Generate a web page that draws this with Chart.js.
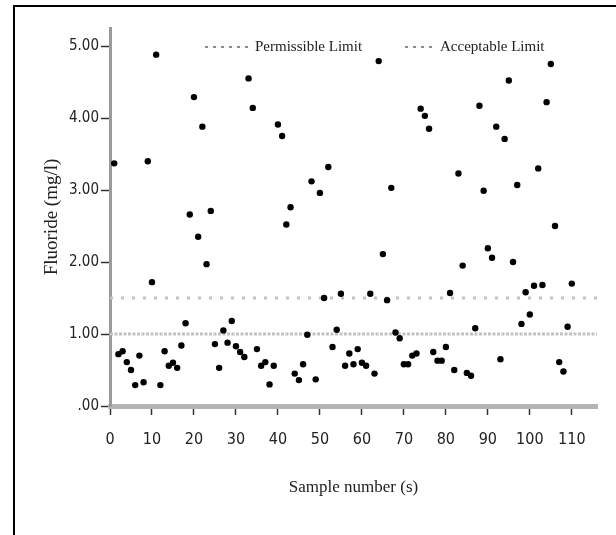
<!DOCTYPE html>
<html>
<head>
<meta charset="utf-8">
<script src="https://cdn.jsdelivr.net/npm/chart.js@4/dist/chart.umd.min.js"></script>
<style>
  html, body { margin: 0; padding: 0; background: #fff; }
</style>
</head>
<body>
<canvas id="fluorideChart" width="616" height="535"></canvas>
<script>
const sampleNumbers = [
    1, 2, 3, 4, 5, 6, 7, 8, 9, 10,
    11, 12, 13, 14, 15, 16, 17, 18, 19, 20,
    21, 22, 23, 24, 25, 26, 27, 28, 29, 30,
    31, 32, 33, 34, 35, 36, 37, 38, 39, 40,
    41, 42, 43, 44, 45, 46, 47, 48, 49, 50,
    51, 52, 53, 54, 55, 56, 57, 58, 59, 60,
    61, 62, 63, 64, 65, 66, 67, 68, 69, 70,
    71, 72, 73, 74, 75, 76, 77, 78, 79, 80,
    81, 82, 83, 84, 85, 86, 87, 88, 89, 90,
    91, 92, 93, 94, 95, 96, 97, 98, 99, 100,
    101, 102, 103, 104, 105, 106, 107, 108, 109, 110
];

// fluoride (mg/l) per sample
const fluoride = [
    3.37, 0.72, 0.76, 0.61, 0.50, 0.29, 0.70, 0.33, 3.40, 1.72,
    4.88, 0.29, 0.76, 0.56, 0.60, 0.53, 0.84, 1.15, 2.66, 4.29,
    2.35, 3.88, 1.97, 2.71, 0.86, 0.53, 1.05, 0.88, 1.18, 0.83,
    0.75, 0.68, 4.55, 4.14, 0.79, 0.56, 0.61, 0.30, 0.56, 3.91,
    3.75, 2.52, 2.76, 0.45, 0.36, 0.58, 0.99, 3.12, 0.37, 2.96,
    1.50, 3.32, 0.82, 1.06, 1.56, 0.56, 0.73, 0.58, 0.79, 0.60,
    0.56, 1.56, 0.45, 4.79, 2.11, 1.47, 3.03, 1.02, 0.94, 0.58,
    0.58, 0.70, 0.73, 4.13, 4.03, 3.85, 0.75, 0.63, 0.63, 0.82,
    1.57, 0.50, 3.23, 1.95, 0.46, 0.42, 1.08, 4.17, 2.99, 2.19,
    2.06, 3.88, 0.65, 3.71, 4.52, 2.00, 3.07, 1.14, 1.58, 1.27,
    1.67, 3.30, 1.68, 4.22, 4.75, 2.50, 0.61, 0.48, 1.10, 1.70
];

const limitNames = ["Permissible Limit", "Acceptable Limit"];
const limitValues = [1.5, 1.0];

const xRange = [0, 116];
const yRange = [0, 5.25];

const serif = '"Liberation Serif", "DejaVu Serif", serif';
const narrow = '"Liberation Sans Narrow", "DejaVu Sans Condensed", "Liberation Sans", sans-serif';

const limitStyles = [
    { color: "#c2c2c2", dash: [3, 8] },
    { color: "#c2c2c2", dash: [3, 1.5] }
];

const limitDatasets = limitNames.map((name, i) => ({
    type: "line",
    label: name,
    data: [{ x: xRange[0], y: limitValues[i] }, { x: xRange[1], y: limitValues[i] }],
    borderColor: limitStyles[i].color,
    backgroundColor: "transparent",
    borderWidth: 3,
    borderDash: limitStyles[i].dash,
    pointRadius: 0,
    fill: false
}));

// legend drawn inside the plot, like the original
const limitLegend = {
    id: "limitLegend",
    afterDraw(chart) {
        const ctx = chart.ctx;
        const items = [{ x: 205, w: 46 }, { x: 405, w: 31 }];
        const y = 47;
        ctx.save();
        ctx.font = "15px " + serif;
        ctx.textBaseline = "middle";
        items.forEach((it, i) => {
            const ds = chart.data.datasets[i + 1];
            ctx.strokeStyle = "#8a8a8a";
            ctx.lineWidth = 2;
            ctx.setLineDash([3, 5]);
            ctx.beginPath();
            ctx.moveTo(it.x, y);
            ctx.lineTo(it.x + it.w, y);
            ctx.stroke();
            ctx.setLineDash([]);
            ctx.fillStyle = "#222";
            ctx.fillText(ds.label, it.x + it.w + 4, y);
        });
        ctx.restore();
    }
};

const frame = {
    id: "frame",
    afterDraw(chart) {
        const ctx = chart.ctx;
        ctx.save();
        ctx.strokeStyle = "#000";
        ctx.lineWidth = 2;
        ctx.beginPath();
        ctx.moveTo(14, 535);
        ctx.lineTo(14, 6);
        ctx.lineTo(616, 6);
        ctx.stroke();
        ctx.restore();
    }
};

const ctx = document.getElementById("fluorideChart").getContext("2d");
new Chart(ctx, {
    type: "scatter",
    data: {
        datasets: [
            {
                type: "scatter",
                label: "Fluoride",
                data: sampleNumbers.map((s, i) => ({ x: s, y: fluoride[i] })),
                backgroundColor: "#000",
                borderColor: "#000",
                borderWidth: 0,
                pointRadius: 3.2,
                pointHoverRadius: 3.2
            },
            ...limitDatasets
        ]
    },
    options: {
        responsive: false,
        animation: false,
        devicePixelRatio: 1,
        layout: { padding: { top: 28, right: 19, left: 0, bottom: 0 } },
        plugins: {
            legend: { display: false },
            tooltip: { enabled: false }
        },
        scales: {
            x: {
                type: "linear",
                min: xRange[0],
                max: xRange[1],
                afterFit: s => { s.height = 129; },
                ticks: {
                    stepSize: 10,
                    includeBounds: false,
                    color: "#222",
                    font: { family: narrow, size: 16 },
                    padding: 15
                },
                grid: {
                    drawOnChartArea: false,
                    tickLength: 9,
                    tickColor: "#333",
                    tickWidth: 1.5
                },
                border: { color: "#b5b5b5", width: 5 },
                title: {
                    display: true,
                    text: "Sample number (s)",
                    color: "#222",
                    font: { family: serif, size: 17 },
                    padding: { top: 0, bottom: 37 }
                }
            },
            y: {
                min: yRange[0],
                max: yRange[1],
                afterFit: s => { s.width = 110; },
                ticks: {
                    stepSize: 1,
                    includeBounds: false,
                    color: "#222",
                    font: { family: narrow, size: 15 },
                    padding: 2,
                    callback: v => (v === 0 ? ".00" : v.toFixed(2))
                },
                grid: {
                    drawOnChartArea: false,
                    tickLength: 9,
                    tickColor: "#333",
                    tickWidth: 1.5
                },
                border: { color: "#9a9a9a", width: 3 },
                title: {
                    display: true,
                    text: "Fluoride (mg/l)",
                    color: "#222",
                    font: { family: serif, size: 19 },
                    padding: { top: 41, bottom: 0 }
                }
            }
        }
    },
    plugins: [limitLegend, frame]
});
</script>
</body>
</html>
